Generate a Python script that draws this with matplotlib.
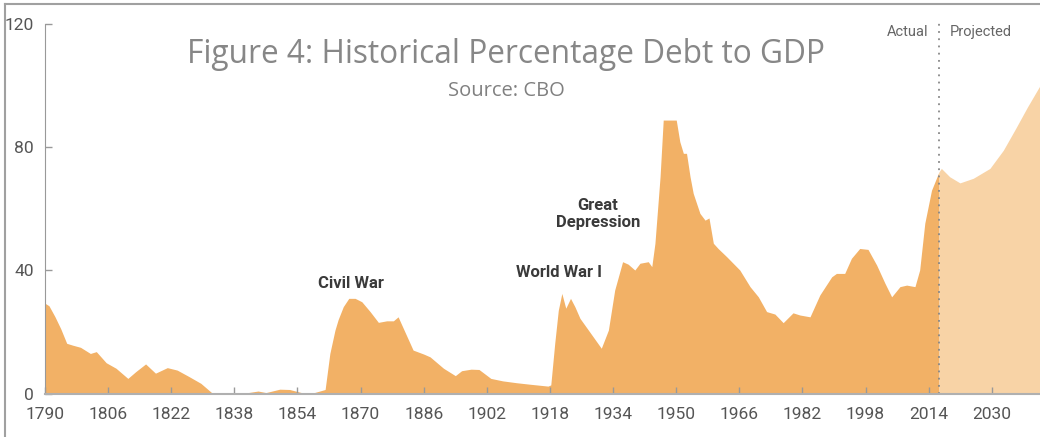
import matplotlib.pyplot as plt
from matplotlib.lines import Line2D

# debt held by the public, % of GDP
years = [1790, 1791, 1792.5, 1794, 1795.5, 1797, 1799, 1801.5, 1803, 1805.5,
         1808, 1811, 1813, 1815.5, 1818, 1821, 1823.5, 1826.5, 1829.5, 1832.5,
         1840, 1844, 1846, 1849.5, 1852, 1855, 1858, 1861, 1862.2, 1863.5,
         1864.3, 1865.6, 1867, 1868.6, 1870.3, 1872.4, 1874.5, 1876.6, 1878.3, 1879.5,
         1880.8, 1883.3, 1886, 1887.6, 1891, 1894, 1895.6, 1898, 1900, 1903,
         1906, 1909.5, 1913, 1917.5, 1918.2, 1919.2, 1920.1, 1921, 1922, 1923.2,
         1924.3, 1925.6, 1928, 1931, 1932.8, 1934.4, 1936.4, 1937.8, 1939.5, 1940.8,
         1942.9, 1943.8, 1944.6, 1945.9, 1946.7, 1950, 1950.9, 1951.8, 1952.6, 1953.5,
         1954.3, 1956, 1957.3, 1958.3, 1959.4, 1960.6, 1962.8, 1966.1, 1968.7, 1970.8,
         1972.9, 1975, 1977.1, 1979.6, 1981.3, 1983.9, 1986.4, 1989.4, 1990.6, 1992.7,
         1994.4, 1996.5, 1998.6, 2000.8, 2002.9, 2004.6, 2006.7, 2008.4, 2010.5, 2011.7,
         2013, 2014.7, 2016.6]
debt = [29.3, 28.5, 25, 21, 16.3, 15.7, 15, 13, 13.6, 10,
        8.2, 4.9, 7.1, 9.6, 6.6, 8.4, 7.6, 5.5, 3.3, 0,
        0, 0.8, 0.3, 1.4, 1.3, 0.3, 0.2, 1.3, 13, 20.6,
        24, 28.2, 30.9, 30.9, 29.8, 26.6, 23.1, 23.6, 23.6, 24.9,
        21.2, 14.1, 12.8, 11.9, 8.2, 5.8, 7.4, 7.9, 7.8, 4.9,
        4.1, 3.5, 3, 2.4, 2.8, 16.3, 27, 32.5, 27.7, 30.9,
        28.2, 24.4, 20.1, 14.7, 20.6, 33.6, 42.8, 42, 40.1, 42.3,
        42.8, 41.2, 48.8, 70.4, 88.8, 88.8, 81.8, 78, 78, 70.4,
        65, 58.5, 56.3, 57, 48.8, 47.1, 44.4, 40.1, 34.7, 31.4,
        26.6, 25.8, 23, 26.2, 25.5, 24.9, 32, 37.9, 39, 39,
        43.9, 47.1, 46.8, 41.7, 35.8, 31.4, 34.7, 35.2, 34.7, 40.1,
        55.3, 66, 72]

proj_years = [2016.6, 2017.2, 2019.3, 2021.9, 2025.3, 2029.5, 2032.9, 2036, 2039, 2042.2]
proj_debt = [72, 73.1, 70.4, 68.4, 69.9, 73.1, 79, 86, 93, 100]

split_year = 2016.6
xticks = list(range(1790, 2031, 16))
yticks = [0, 40, 80, 120]

events = [("Civil War", 1867.5, 35.8),
          ("World War I", 1920.3, 39.4),
          ("Great\nDepression", 1930.1, 58.2)]

orange = "#F2B166"
light_orange = "#F8D3A6"
narrow = ["Roboto", "DejaVu Sans"]

fig = plt.figure(figsize=(10.4, 4.37), dpi=100)
ax = fig.add_axes([45 / 1040, 43.5 / 437, 995 / 1040, 369.5 / 437])

ax.fill_between(years, debt, color=orange, linewidth=0)
ax.fill_between(proj_years, proj_debt, color=light_orange, linewidth=0)
ax.axvline(split_year, ymax=1.003, color="#888888", linestyle=(0, (1, 3)),
           linewidth=1.3, clip_on=False)

ax.set_xlim(1790, 2042.2)
ax.set_ylim(0, 120)
ax.set_xticks(xticks)
ax.set_yticks(yticks)
ax.tick_params(direction="in", length=5, width=1, color="#999999",
               labelcolor="#555555", labelsize=12.5)
ax.tick_params(axis="x", pad=10)
ax.tick_params(axis="y", pad=8)
for lab in ax.get_xticklabels() + ax.get_yticklabels():
    lab.set_family(narrow)

for s in ["top", "right"]:
    ax.spines[s].set_visible(False)
ax.spines["left"].set_color("#999999")
ax.spines["bottom"].set_color("#b0b0b0")
ax.spines["bottom"].set_linewidth(1.5)

for label, x, y in events:
    ax.text(x, y, label, ha="center", va="center", fontsize=12,
            fontweight="bold", color="#3a3a3a", family=narrow, linespacing=1.2)

ax.text(split_year - 2.7, 117.4, "Actual", ha="right", va="center",
        fontsize=10.5, color="#666666", family=narrow)
ax.text(split_year + 2.7, 117.4, "Projected", ha="left", va="center",
        fontsize=10.5, color="#666666", family=narrow)

fig.text(0.486, 0.876, "Figure 4: Historical Percentage Debt to GDP",
         ha="center", va="center", fontsize=22.8,
         color="#878787", family="Open Sans")
fig.text(0.487, 0.792, "Source: CBO", ha="center", va="center",
         fontsize=14.5, color="#808080", family="Open Sans")

# screenshot frame
fig.add_artist(Line2D([4.5 / 1040, 4.5 / 1040], [0, 1 - 3.5 / 437],
                      color="#a0a0a0", linewidth=1.5))
fig.add_artist(Line2D([4.5 / 1040, 1], [1 - 3.5 / 437, 1 - 3.5 / 437],
                      color="#a0a0a0", linewidth=1.5))

fig.savefig("out.png", dpi=100)
